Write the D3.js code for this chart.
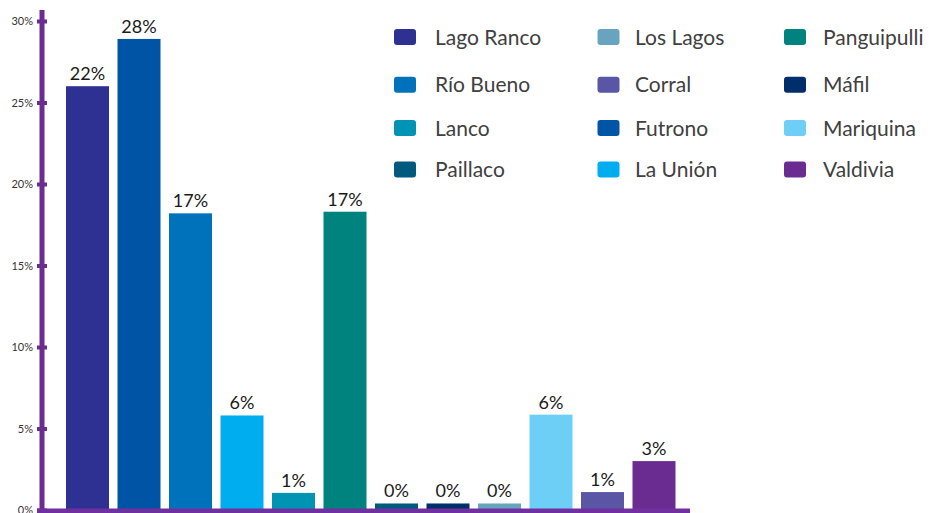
<!DOCTYPE html>
<html>
<head>
<meta charset="utf-8">
<script src="https://cdn.jsdelivr.net/npm/d3@7"></script>
<style>
  body { margin: 0; background: #fff; }
  svg { display: block; font-family: Lato, "Open Sans", sans-serif; }
</style>
</head>
<body>
<div id="chart"></div>
<script>
// bar data (heights, labels as printed on the chart)
const comunas = ["Lago Ranco", "Futrono", "Río Bueno", "La Unión", "Lanco", "Panguipulli",
                 "Paillaco", "Máfil", "Los Lagos", "Mariquina", "Corral", "Valdivia"];
const values = [26.0, 28.9, 18.2, 5.8, 1.05, 18.3, 0.4, 0.4, 0.4, 5.85, 1.1, 3.0];
const valueLabels = ["22%", "28%", "17%", "6%", "1%", "17%", "0%", "0%", "0%", "6%", "1%", "3%"];
const colors = ["#2E3192", "#0054A6", "#0072BC", "#00AEEF", "#0093B3", "#00827F",
                "#005A7E", "#002E6B", "#68A3BF", "#6DCFF6", "#5B55A5", "#6A2C91"];
const yTicks = [0, 5, 10, 15, 20, 25, 30];
const yTickLabels = ["0%", "5%", "10%", "15%", "20%", "25%", "30%"];

// legend, column by column
const legendCols = [
    ["Lago Ranco", "Río Bueno", "Lanco", "Paillaco"],
    ["Los Lagos", "Corral", "Futrono", "La Unión"],
    ["Panguipulli", "Máfil", "Mariquina", "Valdivia"]
];

const width = 929, height = 513;
const axisX = 42, baseY = 510;

const svg = d3.select("#chart")
    .append("svg")
        .attr("width", width)
        .attr("height", height);

const x = d3.scaleBand()
    .domain(comunas)
    .range([61.75, 679.75])
    .paddingInner(0.165)
    .paddingOuter(0.0825);

const y = d3.scaleLinear()
    .domain([0, 30])
    .range([baseY, 21]);

const colorOf = d3.scaleOrdinal().domain(comunas).range(colors);

// bars
svg.selectAll("rect.bar")
    .data(comunas)
    .enter()
    .append("rect")
        .attr("class", "bar")
        .attr("x", d => x(d))
        .attr("y", (d, i) => y(values[i]))
        .attr("width", x.bandwidth())
        .attr("height", (d, i) => y(0) - y(values[i]))
        .attr("fill", d => colorOf(d));

// value labels
svg.selectAll("text.val")
    .data(comunas)
    .enter()
    .append("text")
        .attr("class", "val")
        .attr("x", d => x(d) + x.bandwidth() / 2)
        .attr("y", (d, i) => y(values[i]) - 6)
        .attr("text-anchor", "middle")
        .attr("font-size", 18)
        .attr("fill", "#1a1a1a")
        .text((d, i) => valueLabels[i]);

// y axis
const yAxis = svg.append("g")
    .attr("transform", `translate(${axisX},0)`)
    .call(d3.axisLeft(y)
        .tickValues(yTicks)
        .tickFormat((d, i) => yTickLabels[i])
        .tickSize(5)
        .tickSizeOuter(0));
yAxis.select(".domain")
    .attr("d", `M0,${y(30) - 11}V${baseY}`)
    .attr("stroke", "#6B2D91")
    .attr("stroke-width", 5);
yAxis.selectAll(".tick line")
    .attr("x1", -5)
    .attr("x2", 5)
    .attr("stroke", "#6B2D91")
    .attr("stroke-width", 4);
yAxis.selectAll(".tick text")
    .attr("x", -9)
    .attr("font-size", 11)
    .attr("font-family", "Lato, sans-serif")
    .attr("fill", "#333");

// x axis line
svg.append("line")
    .attr("x1", axisX - 5)
    .attr("x2", 690)
    .attr("y1", baseY + 1)
    .attr("y2", baseY + 1)
    .attr("stroke", "#7030A0")
    .attr("stroke-width", 5);

// legend
const swatchX = [394, 597.5, 784];
const labelX = [435, 635, 823];
const rowY = [37, 84.7, 128, 169.5];

legendCols.forEach((col, c) => {
    col.forEach((name, r) => {
        svg.append("rect")
            .attr("x", swatchX[c])
            .attr("y", rowY[r] - 8)
            .attr("width", 22)
            .attr("height", 16)
            .attr("rx", 3)
            .attr("fill", colorOf(name));
        svg.append("text")
            .attr("x", labelX[c])
            .attr("y", rowY[r])
            .attr("dy", "0.36em")
            .attr("font-size", 21)
            .attr("fill", "#404040")
            .text(name);
    });
});
</script>
</body>
</html>
